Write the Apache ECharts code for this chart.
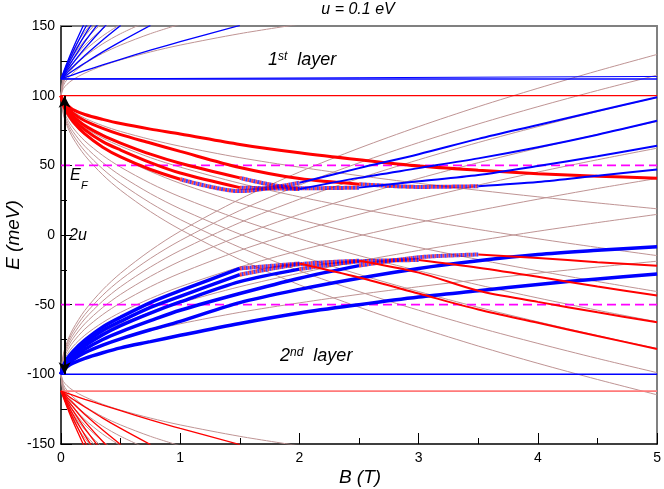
<!DOCTYPE html>
<html>
<head>
<meta charset="utf-8">
<script src="https://cdn.jsdelivr.net/npm/echarts@6/dist/echarts.min.js"></script>
<style>
  html, body { margin: 0; padding: 0; background: #fff; }
  #chart { width: 664px; height: 489px; }
</style>
</head>
<body>
<div id="chart"></div>
<script>
// magnetic field samples (T) shared by every curve below
const bGrid = [0, 0.02, 0.05, 0.1, 0.2, 0.35, 0.5, 0.75, 1, 1.5, 2, 2.5, 3, 3.5, 4, 4.5, 5];
const xTicks = [0, 1, 2, 3, 4, 5];
const yTicks = [-150, -100, -50, 0, 50, 100, 150];

// uncoupled layer levels (brown), fanning down from +100 meV
const down1 = [100, 94.9, 91.9, 88.5, 83.8, 78.5, 74.3, 68.6, 63.7, 55.5, 48.7, 42.6, 37.1, 32.1, 27.4, 23.0, 18.8];
const down2 = [100, 92.7, 88.5, 83.8, 77.0, 69.6, 63.7, 55.5, 48.7, 37.1, 27.4, 18.8, 11.1, 4.0, -2.7, -8.9, -14.8];
const down3 = [100, 91.1, 85.9, 80.1, 71.9, 62.8, 55.5, 45.6, 37.1, 23.0, 11.1, 0.6, -8.9, -17.6, -25.7, -33.4, -40.6];
const down4 = [100, 89.7, 83.8, 77.0, 67.5, 57.1, 48.7, 37.1, 27.4, 11.1, -2.7, -14.8, -25.7, -35.8, -45.2, -54.0, -62.3];
const down5 = [100, 88.5, 81.8, 74.3, 63.7, 52.0, 42.6, 29.7, 18.8, 0.6, -14.8, -28.3, -40.6, -51.9, -62.3, -72.2, -81.5];
const down6 = [100, 87.4, 80.1, 71.9, 60.2, 47.4, 37.1, 23.0, 11.1, -8.9, -25.7, -40.6, -54.0, -66.4, -77.8, -88.6, -98.8];
const down7 = [100, 86.4, 78.5, 69.6, 57.1, 43.2, 32.1, 16.8, 4.0, -17.6, -35.8, -51.8, -66.3, -79.7, -92.1, -103.7, -114.7];
// brown, rising from -100 meV
const rise1 = [-100, -94.9, -91.9, -88.5, -83.8, -78.5, -74.3, -68.6, -63.7, -55.5, -48.7, -42.6, -37.1, -32.1, -27.4, -23.0, -18.8];
const rise2 = [-100, -92.7, -88.5, -83.8, -77.0, -69.6, -63.7, -55.5, -48.7, -37.1, -27.4, -18.8, -11.1, -4.0, 2.7, 8.9, 14.8];
const rise3 = [-100, -91.1, -85.9, -80.1, -71.9, -62.8, -55.5, -45.6, -37.1, -23.0, -11.1, -0.6, 8.9, 17.6, 25.7, 33.4, 40.6];
const rise4 = [-100, -89.7, -83.8, -77.0, -67.5, -57.1, -48.7, -37.1, -27.4, -11.1, 2.7, 14.8, 25.7, 35.8, 45.2, 54.0, 62.3];
const rise5 = [-100, -88.5, -81.8, -74.3, -63.7, -52.0, -42.6, -29.7, -18.8, -0.6, 14.8, 28.3, 40.6, 51.9, 62.3, 72.2, 81.5];
const rise6 = [-100, -87.4, -80.1, -71.9, -60.2, -47.4, -37.1, -23.0, -11.1, 8.9, 25.7, 40.6, 54.0, 66.4, 77.8, 88.6, 98.8];
const rise7 = [-100, -86.4, -78.5, -69.6, -57.1, -43.2, -32.1, -16.8, -4.0, 17.6, 35.8, 51.8, 66.3, 79.7, 92.1, 103.7, 114.7];
const rise8 = [-100, -85.5, -77.0, -67.5, -54.1, -39.3, -27.4, -11.1, 2.7, 25.7, 45.2, 62.3, 77.8, 92.1, 105.3, 117.8, 129.6];
// brown, outward from +100 and -100 (leave the frame early)
const upA1 = [100, 105.1, 108.1, 111.5, 116.2, 121.5, 125.7, 131.4, 136.3, 144.5, 151.3];
const upA2 = [100, 107.3, 111.5, 116.2, 123.0, 130.4, 136.3, 144.5, 151.3];
const upA3 = [100, 108.9, 114.1, 119.9, 128.1, 137.2, 144.5, 154.4];
const upA4 = [100, 110.3, 116.2, 123.0, 132.5, 142.9, 151.3];
const upA5 = [100, 111.5, 118.2, 125.7, 136.3, 148.0, 157.4];
const upA6 = [100, 112.6, 119.9, 128.1, 139.8, 152.6];
const upA7 = [100, 113.6, 121.5, 130.4, 142.9, 156.8];
const upA8 = [100, 114.5, 123.0, 132.5, 145.9, 160.7];
const lowB1 = [-100, -105.1, -108.1, -111.5, -116.2, -121.5, -125.7, -131.4, -136.3, -144.5, -151.3];
const lowB2 = [-100, -107.3, -111.5, -116.2, -123.0, -130.4, -136.3, -144.5, -151.3];
const lowB3 = [-100, -108.9, -114.1, -119.9, -128.1, -137.2, -144.5, -154.4];
const lowB4 = [-100, -110.3, -116.2, -123.0, -132.5, -142.9, -151.3];
const lowB5 = [-100, -111.5, -118.2, -125.7, -136.3, -148.0, -157.4];
const lowB6 = [-100, -112.6, -119.9, -128.1, -139.8, -152.6];
const lowB7 = [-100, -113.6, -121.5, -130.4, -142.9, -156.8];
const lowB8 = [-100, -114.5, -123.0, -132.5, -145.9, -160.7];

// thin blue levels above 112 meV, thin red below -112 meV
const blueHi1 = [112, 112.6, 113.5, 115.0, 117.9, 122.1, 126.1, 132.6, 138.8, 150.4];
const blueHi2 = [112, 113.2, 115.0, 117.9, 123.4, 131.4, 138.8, 150.4];
const blueHi3 = [112, 113.8, 116.4, 120.7, 128.8, 140.0, 150.4];
const blueHi4 = [112, 114.4, 117.9, 123.4, 133.9, 148.2, 161.2];
const blueHi5 = [112, 115.0, 119.3, 126.1, 138.8, 155.9];
const blueHi6 = [112, 115.5, 120.7, 128.8, 143.6, 163.3];
const blueHi7 = [112, 116.1, 122.1, 131.4, 148.2, 170.4];
const blueHi8 = [112, 116.7, 123.4, 133.9, 152.7];
const redLo1 = [-112, -112.6, -113.5, -115.0, -117.9, -122.1, -126.1, -132.6, -138.8, -150.4];
const redLo2 = [-112, -113.2, -115.0, -117.9, -123.4, -131.4, -138.8, -150.4];
const redLo3 = [-112, -113.8, -116.4, -120.7, -128.8, -140.0, -150.4];
const redLo4 = [-112, -114.4, -117.9, -123.4, -133.9, -148.2, -161.2];
const redLo5 = [-112, -115.0, -119.3, -126.1, -138.8, -155.9];
const redLo6 = [-112, -115.5, -120.7, -128.8, -143.6, -163.3];
const redLo7 = [-112, -116.1, -122.1, -131.4, -148.2, -170.4];
const redLo8 = [-112, -116.7, -123.4, -133.9, -152.7];

// thick coupled levels, upper half (red first, blue after the anticrossing)
const upper1 = [100, 96, 93.5, 90, 86.5, 83, 80, 76, 72.5, 65, 59, 54, 49.5, 46.5, 44, 42.2, 40.8];
const upper2 = [100, 95, 92, 87.5, 82, 76.5, 72, 66, 60, 48.5, 40.5, 36.5, 34.5, 35, 38, 42.5, 47];
const upper3 = [100, 94.5, 90.5, 85.5, 78.5, 71.5, 66, 58, 51.5, 41, 33.5, 34, 38.5, 43, 49.5, 56.5, 64];
const upper4 = [100, 94, 89.5, 83.5, 75.5, 67, 61, 52, 44.5, 34, 33, 41, 48, 55, 63, 72, 82];
const upper5 = [100, 93, 88, 81.5, 72.5, 63, 56, 47, 40, 31.5, 37.5, 48, 58, 69, 79, 89, 98.8];
// thick coupled levels, lower half (blue first, red after)
const lower1 = [-100, -96.5, -94.5, -92, -88.5, -84.5, -81, -76.5, -72, -63.5, -56, -50, -44.5, -40, -35.5, -31.5, -28];
const lower2 = [-100, -96, -93, -89.5, -84.5, -79, -74.5, -68, -62, -48.5, -39, -31, -24, -18.5, -14, -11, -8.4];
const lower3 = [-100, -95.5, -92, -88, -82, -75, -69.5, -61.5, -54, -42, -31, -22, -16, -14, -16.5, -19.5, -22];
const lower4 = [-100, -95, -91, -86.5, -79.5, -71.5, -65, -56, -48, -33.5, -24.5, -19, -18, -23.5, -30, -37, -43.5];
const lower5 = [-100, -94.5, -90, -85, -77.5, -68.5, -62, -52, -44, -28.5, -21, -18.5, -27, -40, -48, -55.5, -62.6];
const lower6 = [-100, -94, -89, -83.5, -75.5, -66, -59, -48.5, -40, -24, -20.5, -30.5, -42, -53.5, -63, -72.5, -81.8];

// flat levels and Fermi energies
const flatB = [0, 5];
const flatBlueTop = [112, 112];
const flatBlueTop2 = [112, 113.8];
const flatRedTop = [100, 100];
const flatBlueLow = [-100, -100];
const flatRedLow = [-112, -112];
const fermiUp = [50, 50];
const fermiDown = [-50, -50];

const FONT = '"Liberation Sans", Arial, Helvetica, sans-serif';
const RED = '#ff0000';
const BLUE = '#0000ff';
const BROWN = '#bf9494';

const series = [];

function pts(vals, from, to) {
  const out = [];
  const end = to === undefined ? vals.length - 1 : Math.min(to, vals.length - 1);
  for (let i = from || 0; i <= end; i++) out.push([bGrid[i], vals[i]]);
  return out;
}

function addLine(data, color, width, style, smooth) {
  series.push({
    type: 'line',
    data,
    symbol: 'none',
    smooth: smooth === undefined ? 0.3 : smooth,
    silent: true,
    animation: false,
    lineStyle: Object.assign({ color, width }, style || {}),
  });
}

function addMixed(data, width) {
  addLine(data, RED, width, { type: [2, 2], opacity: 0.75 });
  addLine(data, BLUE, width, { type: [2, 2], dashOffset: 2, opacity: 0.75 });
}

// a level that changes colour: first colour up to m0, hatched m0..m1, second colour after
function addLevel(vals, c1, w1, c2, w2, m0, m1) {
  const last = vals.length - 1;
  addLine(pts(vals, 0, m0), c1, w1);
  if (m0 >= last) return;
  addMixed(pts(vals, m0, m1), 4);
  addLine(pts(vals, m1, last), c2, w2);
}

[down1, down2, down3, down4, down5, down6, down7,
 rise1, rise2, rise3, rise4, rise5, rise6, rise7, rise8,
 upA1, upA2, upA3, upA4, upA5, upA6, upA7, upA8,
 lowB1, lowB2, lowB3, lowB4, lowB5, lowB6, lowB7, lowB8].forEach((v) => addLine(pts(v), BROWN, 1));

function flat(vals, color, width, style) {
  addLine(flatB.map((b, i) => [b, vals[i]]), color, width, style, false);
}
flat(flatBlueTop, BLUE, 1.5);
flat(flatBlueTop2, BLUE, 1);
flat(flatRedTop, RED, 1.2);
flat(flatBlueLow, BLUE, 1.5);
flat(flatRedLow, '#ff7a7a', 1.8);
flat(fermiUp, '#ff00ff', 1.6, { type: [9, 5] });
flat(fermiDown, '#ff00ff', 1.6, { type: [9, 5] });

[blueHi1, blueHi2, blueHi3, blueHi4, blueHi5, blueHi6, blueHi7, blueHi8].forEach((v) => addLine(pts(v), BLUE, 1.3));
[redLo1, redLo2, redLo3, redLo4, redLo5, redLo6, redLo7, redLo8].forEach((v) => addLine(pts(v), RED, 1.3));

addLevel(upper1, RED, 3, BLUE, 2, 16, 16);
addLevel(upper2, RED, 3, BLUE, 2, 11, 13);
addLevel(upper3, RED, 3, BLUE, 2, 9, 11);
addLevel(upper4, RED, 3, BLUE, 2, 9, 10);
addLevel(upper5, RED, 3, BLUE, 2, 8, 10);

addLevel(lower1, BLUE, 3.5, RED, 2, 16, 16);
addLevel(lower2, BLUE, 3.5, RED, 2, 16, 16);
addLevel(lower3, BLUE, 3.5, RED, 2, 11, 13);
addLevel(lower4, BLUE, 3.5, RED, 2, 10, 12);
addLevel(lower5, BLUE, 3.5, RED, 2, 9, 11);
addLevel(lower6, BLUE, 3.5, RED, 2, 9, 10);

// the 2u arrow between the two layer energies
series.push({
  type: 'line',
  data: [],
  silent: true,
  animation: false,
  markLine: {
    silent: true,
    animation: false,
    symbol: ['arrow', 'arrow'],
    symbolSize: [9, 12],
    label: { show: false },
    lineStyle: { color: '#000', width: 2, type: 'solid' },
    data: [[{ coord: [0.03, -100] }, { coord: [0.03, 100] }]],
  },
});

const chart = echarts.init(document.getElementById('chart'), null, { renderer: 'canvas' });
chart.setOption({
  animation: false,
  backgroundColor: '#fff',
  grid: { left: 61, right: 6, top: 26, bottom: 45 },
  xAxis: [
    {
      type: 'value', min: xTicks[0], max: xTicks[xTicks.length - 1], interval: 1,
      axisLine: { onZero: false, lineStyle: { color: '#000', width: 1.5 } },
      axisTick: { inside: true, length: 11, lineStyle: { color: '#000', width: 1 } },
      minorTick: { show: true, splitNumber: 2, length: 6, lineStyle: { color: '#000', width: 1 } },
      axisLabel: { color: '#000', fontSize: 14, fontFamily: FONT, margin: 7 },
      splitLine: { show: false },
    },
    {
      type: 'value', position: 'top', min: 0, max: 5,
      axisLine: { onZero: false, lineStyle: { color: '#808080', width: 2 } },
      axisTick: { show: false }, axisLabel: { show: false }, splitLine: { show: false },
    },
  ],
  yAxis: [
    {
      type: 'value', min: yTicks[0], max: yTicks[yTicks.length - 1], interval: 50,
      axisLine: { onZero: false, lineStyle: { color: '#000', width: 1.5 } },
      axisTick: { inside: true, length: 11, lineStyle: { color: '#000', width: 1 } },
      minorTick: { show: true, splitNumber: 2, length: 6, lineStyle: { color: '#000', width: 1 } },
      axisLabel: { color: '#000', fontSize: 14, fontFamily: FONT, margin: 6 },
      splitLine: { show: false },
    },
    {
      type: 'value', position: 'right', min: -150, max: 150,
      axisLine: { onZero: false, lineStyle: { color: '#808080', width: 2 } },
      axisTick: { show: false }, axisLabel: { show: false }, splitLine: { show: false },
    },
  ],
  series,
  graphic: [
    { type: 'text', x: 358, y: 10, silent: true,
      style: { text: 'u = 0.1 eV', fill: '#000', font: 'italic 16px ' + FONT, textAlign: 'center', textVerticalAlign: 'middle' } },
    { type: 'text', x: 14, y: 235, rotation: Math.PI / 2, silent: true,
      style: { text: 'E (meV)', fill: '#000', font: 'italic 19px ' + FONT, textAlign: 'center', textVerticalAlign: 'middle' } },
    { type: 'text', x: 360, y: 478, silent: true,
      style: { text: 'B (T)', fill: '#000', font: 'italic 19px ' + FONT, textAlign: 'center', textVerticalAlign: 'middle' } },
    { type: 'text', x: 268, y: 51, silent: true,
      style: { text: '{m|1}{s|st}{m|  layer}', fill: '#000', textVerticalAlign: 'top',
        rich: { m: { font: 'italic 18px ' + FONT, fill: '#000', verticalAlign: 'bottom' },
                s: { font: 'italic 12px ' + FONT, fill: '#000', verticalAlign: 'top' } } } },
    { type: 'text', x: 280, y: 347, silent: true,
      style: { text: '{m|2}{s|nd}{m|  layer}', fill: '#000', textVerticalAlign: 'top',
        rich: { m: { font: 'italic 18px ' + FONT, fill: '#000', verticalAlign: 'bottom' },
                s: { font: 'italic 12px ' + FONT, fill: '#000', verticalAlign: 'top' } } } },
    { type: 'text', x: 70, y: 176, silent: true,
      style: { text: 'E', fill: '#000', font: 'italic 16px ' + FONT, textVerticalAlign: 'middle' } },
    { type: 'text', x: 81, y: 186, silent: true,
      style: { text: 'F', fill: '#000', font: 'italic 11px ' + FONT, textVerticalAlign: 'middle' } },
    { type: 'text', x: 69, y: 236, silent: true,
      style: { text: '2u', fill: '#000', font: 'italic 16px ' + FONT, textVerticalAlign: 'middle' } },
  ],
});
</script>
</body>
</html>
